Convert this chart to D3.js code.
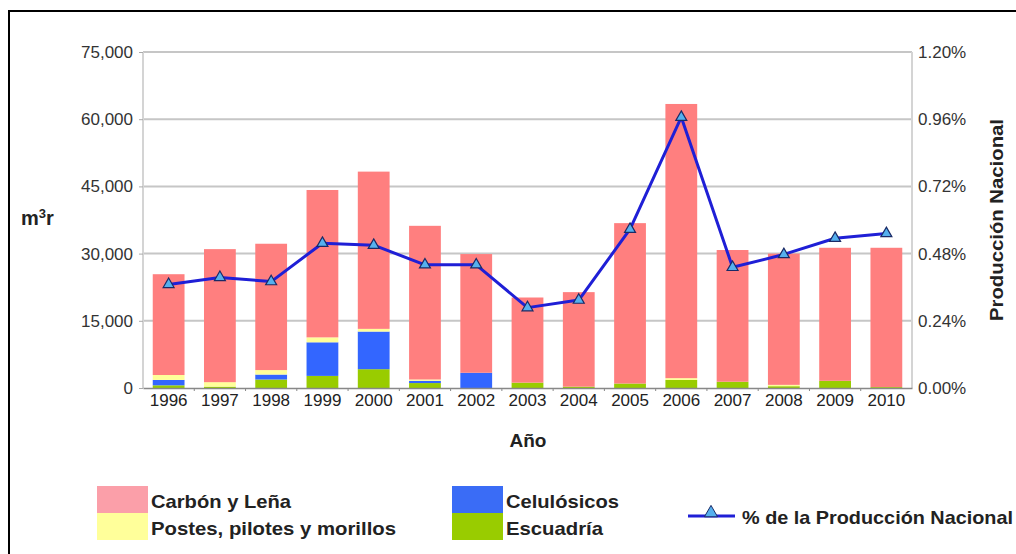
<!DOCTYPE html>
<html><head><meta charset="utf-8">
<script src="https://cdn.jsdelivr.net/npm/d3@7"></script>
<style>
html,body{margin:0;padding:0;background:#fff;}
svg{display:block;font-family:"Liberation Sans",Arial,sans-serif;}
</style></head>
<body>
<svg id="chart" width="1016" height="554"></svg>
<script>
const years = ["1996","1997","1998","1999","2000","2001","2002","2003","2004","2005","2006","2007","2008","2009","2010"];
const carbonLena = [22500,29700,28200,32900,35100,34300,26500,19000,21100,35800,61200,29400,29300,29700,31100];
const postes     = [1100,1000,1000,1100,600,300,0,0,0,0,400,0,300,0,0];
const celulosicos= [1200,0,1100,7500,8400,500,3400,0,0,0,0,0,0,0,0];
const escuadria  = [600,300,1900,2700,4200,1100,0,1200,300,1000,1800,1400,400,1600,200];
const pctNacional = [0.370,0.395,0.380,0.517,0.510,0.440,0.440,0.287,0.314,0.567,0.967,0.431,0.477,0.535,0.552];
const leftTicks = [0,15000,30000,45000,60000,75000];
const rightTicks = [0,0.24,0.48,0.72,0.96,1.20];

const seriesNames = ["Escuadría","Celulósicos","Postes, pilotes y morillos","Carbón y Leña"];
const seriesColors = {"Escuadría":"#99cc00","Celulósicos":"#3366ff","Postes, pilotes y morillos":"#ffff99","Carbón y Leña":"#ff7f7f"};
const legendColors = {"Escuadría":"#99cc00","Celulósicos":"#3a6cf6","Postes, pilotes y morillos":"#ffff9a","Carbón y Leña":"#fb9fa9"};

const rows = years.map((y,i)=>({year:y,"Escuadría":escuadria[i],"Celulósicos":celulosicos[i],"Postes, pilotes y morillos":postes[i],"Carbón y Leña":carbonLena[i]}));

const svg = d3.select("#chart");
const L=143, R=912, T=52, B=388;

// frame
svg.append("path").attr("d","M9,554 V11 H1016").attr("fill","none").attr("stroke","#000").attr("stroke-width",2);

const x = d3.scaleBand().domain(years).range([L,R]).paddingInner(0.38).paddingOuter(0.19);
const y = d3.scaleLinear().domain([0,75000]).range([B,T]);
const y2 = d3.scaleLinear().domain([0,1.2]).range([B,T]);

// gridlines
svg.append("g").selectAll("line").data(leftTicks.filter(d=>d>0)).join("line")
  .attr("x1",L).attr("x2",R).attr("y1",d=>y(d)).attr("y2",d=>y(d))
  .attr("stroke","#c6c6c6").attr("stroke-width",2);
// side borders
svg.append("line").attr("x1",L).attr("x2",L).attr("y1",T).attr("y2",B).attr("stroke","#d4d4d4").attr("stroke-width",2);
svg.append("line").attr("x1",R).attr("x2",R).attr("y1",T).attr("y2",B).attr("stroke","#d4d4d4").attr("stroke-width",2);

// stacked bars
const stack = d3.stack().keys(seriesNames)(rows);
svg.append("g").selectAll("g").data(stack).join("g")
  .attr("fill",d=>seriesColors[d.key])
  .selectAll("rect").data(d=>d).join("rect")
  .attr("x",d=>x(d.data.year)).attr("width",x.bandwidth())
  .attr("y",d=>y(d[1])).attr("height",d=>Math.max(0,y(d[0])-y(d[1])));

// left axis
const yAxis = d3.axisLeft(y).tickValues(leftTicks).tickFormat(d3.format(",")).tickSize(4).tickPadding(6);
const gy = svg.append("g").attr("transform",`translate(${L},0)`).call(yAxis);
gy.select(".domain").remove();
gy.selectAll(".tick line").attr("stroke","#aaa");
gy.selectAll("text").attr("font-size",17).attr("fill","#333");

// right axis
const y2Axis = d3.axisRight(y2).tickValues(rightTicks).tickFormat(d=>d3.format(".2f")(d)+"%").tickSize(0).tickPadding(6);
const gy2 = svg.append("g").attr("transform",`translate(${R},0)`).call(y2Axis);
gy2.select(".domain").remove();
gy2.selectAll("text").attr("font-size",17).attr("fill","#333");

// bottom axis
const xAxis = d3.axisBottom(x).tickSize(0).tickPadding(6);
const gx = svg.append("g").attr("transform",`translate(0,${B})`).call(xAxis);
gx.select(".domain").attr("stroke","#888").attr("stroke-width",1.5);
gx.selectAll("text").attr("font-size",17).attr("fill","#222");
// small separator ticks
svg.append("g").selectAll("line").data(years.slice(1)).join("line")
  .attr("x1",d=>x(d)-x.step()*x.paddingInner()/2).attr("x2",d=>x(d)-x.step()*x.paddingInner()/2)
  .attr("y1",B).attr("y2",B+3).attr("stroke","#888");

// line series
const line = d3.line().x((d,i)=>x(years[i])+x.bandwidth()/2).y(d=>y2(d));
svg.append("path").datum(pctNacional).attr("d",line).attr("fill","none").attr("stroke","#1f1fd6").attr("stroke-width",3).attr("stroke-linejoin","round");
const tri = d3.symbol().type(d3.symbolTriangle).size(52);
svg.append("g").selectAll("path").data(pctNacional).join("path")
  .attr("d",tri).attr("transform",(d,i)=>`translate(${x(years[i])+x.bandwidth()/2},${y2(d)})`)
  .attr("fill","#55b0ee").attr("stroke","#1a2a66").attr("stroke-width",1.2);

// axis titles
svg.append("text").attr("x",21).attr("y",225).attr("font-size",20).attr("font-weight","bold").attr("fill","#222")
  .html('m<tspan baseline-shift="super" font-size="13">3</tspan>r');
svg.append("text").attr("x",528).attr("y",447).attr("text-anchor","middle").attr("font-size",19).attr("font-weight","bold").attr("fill","#222").text("Año");
svg.append("text").attr("transform","translate(1003,220) rotate(-90)").attr("text-anchor","middle").attr("font-size",19).attr("font-weight","bold").attr("fill","#222")
  .attr("textLength",202).attr("lengthAdjust","spacingAndGlyphs").text("Producción Nacional");

// legend
const legendItems = [
  {name:"Carbón y Leña", x:97, y:486, w:140},
  {name:"Postes, pilotes y morillos", x:97, y:513, w:245},
  {name:"Celulósicos", x:452, y:486, w:113},
  {name:"Escuadría", x:452, y:513, w:97}
];
const lg = svg.append("g");
lg.selectAll("rect").data(legendItems).join("rect")
  .attr("x",d=>d.x).attr("y",d=>d.y).attr("width",51).attr("height",27).attr("fill",d=>legendColors[d.name]);
lg.selectAll("text").data(legendItems).join("text")
  .attr("x",d=>d.x+54).attr("y",d=>d.y+22).attr("font-size",19).attr("font-weight","bold").attr("fill","#222")
  .attr("textLength",d=>d.w).attr("lengthAdjust","spacingAndGlyphs")
  .text(d=>d.name);
lg.append("line").attr("x1",688).attr("x2",735).attr("y1",516).attr("y2",516).attr("stroke","#1f1fd6").attr("stroke-width",3);
lg.append("path").attr("d",d3.symbol().type(d3.symbolTriangle).size(75)).attr("transform","translate(711,513)")
  .attr("fill","#55b0ee").attr("stroke","#1a2a66").attr("stroke-width",1);
lg.append("text").attr("x",742).attr("y",524).attr("font-size",19).attr("font-weight","bold").attr("fill","#222")
  .attr("textLength",271).attr("lengthAdjust","spacingAndGlyphs")
  .text("% de la Producción Nacional");
</script>
</body></html>
